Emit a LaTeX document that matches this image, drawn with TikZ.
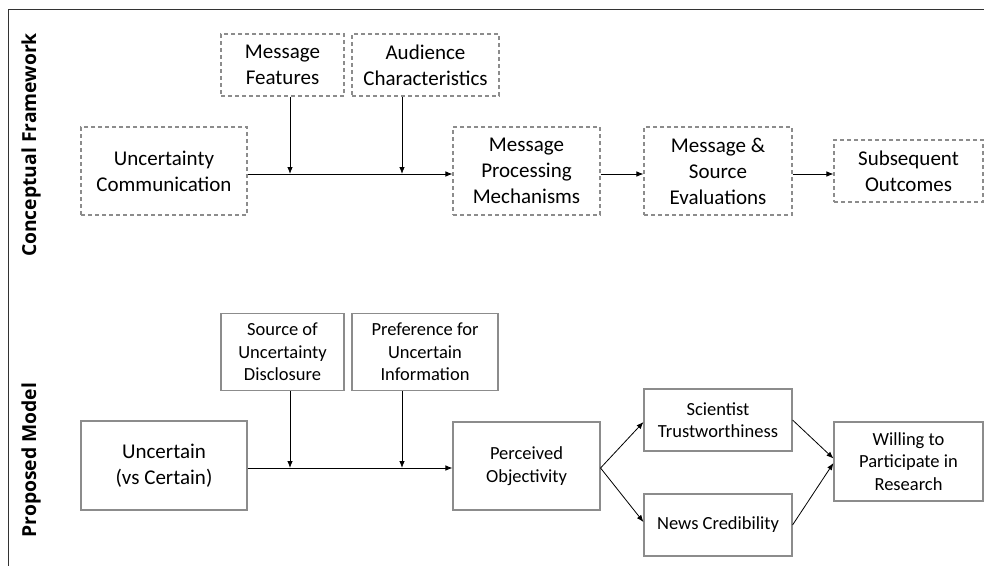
\documentclass[tikz,border=0pt]{standalone}
\usepackage{fontspec}
\setmainfont{Carlito}
\newfontfamily\sidefont{Open Sans}
\usetikzlibrary{arrows.meta}
\definecolor{boxgray}{HTML}{8C8C8C}
\tikzset{
  frame/.style={draw=black!80, line width=1pt},
  cbox/.style={draw=boxgray, dashed, dash pattern=on 4pt off 3pt, line width=1.1pt, align=center, inner sep=0pt,
     font=\fontsize{21}{26}\selectfont},
  pbox/.style={draw=boxgray, line width=1.1pt, align=center, inner sep=0pt,
     font=\fontsize{18.5}{22.5}\selectfont},
  arr/.style={draw=black, line width=0.8pt, -{Latex[length=7pt,width=5.5pt]}},
  side/.style={rotate=90, font=\sidefont\bfseries\fontsize{19.3}{22}\selectfont},
}
\begin{document}
\begin{tikzpicture}[x=1pt,y=-1pt]
\useasboundingbox (0,0) rectangle (984,565);
\draw[frame] (8,566) -- (8,9) -- (985,9);

\node[side] (lcf) at (31,145) {Conceptual Framework};
\node[side] (lpm) at (31,460) {Proposed Model};

% conceptual framework
\node[cbox, minimum width=166pt, minimum height=88pt] (uc) at (164,171) {Uncertainty\\Communication};
\node[cbox, minimum width=123pt, minimum height=62pt] (mf) at (282.5,65) {Message\\Features};
\node[cbox, minimum width=147pt, minimum height=62pt] (ac) at (425.5,65) {Audience\\Characteristics};
\node[cbox, minimum width=147pt, minimum height=88pt] (mpm) at (526.5,171) {Message\\Processing\\Mechanisms};
\node[cbox, minimum width=148pt, minimum height=88pt] (mse) at (718,171) {Message \&\\Source\\Evaluations};
\node[cbox, minimum width=149pt, minimum height=62pt] (so) at (908.5,171) {Subsequent\\Outcomes};

\coordinate (j1) at (290,174);
\coordinate (j2) at (402,174);
\draw[arr] ([yshift=-3pt]uc.east) -- ([yshift=-3pt]mpm.west);
\draw[arr] (mf.south -| j1) -- (j1);
\draw[arr] (ac.south -| j2) -- (j2);
\draw[arr] ([yshift=-3pt]mpm.east) -- ([yshift=-3pt]mse.west);
\draw[arr] ([yshift=-3pt]mse.east) -- ([yshift=-3pt]so.west);

% proposed model
\node[pbox, minimum width=166pt, minimum height=89pt, font=\fontsize{21}{26}\selectfont] (uv) at (164,465.5) {Uncertain\\(vs Certain)};
\node[pbox, minimum width=123pt, minimum height=77pt] (sud) at (282.5,352) {Source of\\Uncertainty\\Disclosure};
\node[pbox, minimum width=146pt, minimum height=77pt] (pui) at (425,352) {Preference for\\Uncertain\\Information};
\node[pbox, minimum width=147pt, minimum height=88pt] (po) at (526.5,466) {Perceived\\Objectivity};
\node[pbox, minimum width=148pt, minimum height=62pt] (st) at (718,420) {Scientist\\Trustworthiness};
\node[pbox, minimum width=148pt, minimum height=62pt] (nc) at (718,525) {News Credibility};
\node[pbox, minimum width=149pt, minimum height=79pt] (wpr) at (908.5,461.5) {Willing to\\Participate in\\Research};

\coordinate (k1) at (290,468);
\coordinate (k2) at (402,468);
\coordinate (pof) at ([yshift=-2pt]po.east);
\draw[arr] ([yshift=-2.5pt]uv.east) -- ([yshift=-2pt]po.west);
\draw[arr] (sud.south -| k1) -- (k1);
\draw[arr] (pui.south -| k2) -- (k2);
\draw[arr] (pof) -- ([yshift=-2pt]st.west);
\draw[arr] (pof) -- ([yshift=3pt]nc.west);
\draw[arr] (st.east) -- ([yshift=3pt]wpr.west);
\draw[arr] (nc.east) -- ([yshift=-1.5pt]wpr.west);
\end{tikzpicture}
\end{document}
